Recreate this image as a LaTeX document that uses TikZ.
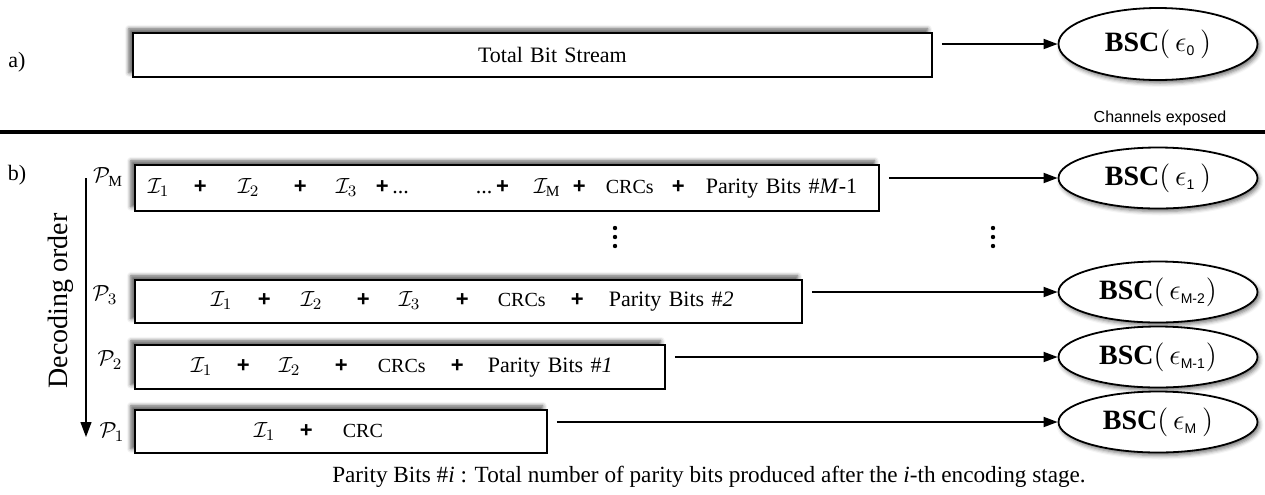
\documentclass[tikz,border=0pt]{standalone}
\usepackage{amsmath}
\usepackage{fontspec}
\setmainfont{Liberation Serif}
\setsansfont{Liberation Sans}
\usetikzlibrary{shapes.geometric,arrows.meta,shadows.blur}
\newcommand{\pls}{\textsf{\textbf{+}}}
\newcommand{\seg}[2]{\makebox[#1pt][l]{#2}}
\newcommand{\sm}{\fontsize{10}{12}\selectfont}
\begin{document}
\begin{tikzpicture}[x=0.5pt,y=-0.5pt,font=\fontsize{11}{13}\selectfont,
pkt/.style={draw,line width=0.9pt,fill=white,rectangle,anchor=north west,inner xsep=0pt,inner ysep=0pt,align=left,
  blur shadow={shadow xshift=-2pt,shadow yshift=2pt,shadow blur radius=2pt,shadow opacity=65}},
bsc/.style={draw,line width=0.9pt,fill=white,ellipse,minimum width=99.5pt,minimum height=30.5pt,inner sep=0pt,
  font=\fontsize{14}{16}\selectfont,blur shadow={shadow xshift=1pt,shadow yshift=-1.5pt,shadow blur radius=2pt,shadow opacity=55}},
conn/.style={-{Triangle[length=7pt,width=5pt]},line width=0.9pt,shorten <=4.5pt}]
\useasboundingbox (0,0) rectangle (1265,494);
\node (la) at (17,62) {a)};
\node (lb) at (17,175) {b)};
\node[pkt,text width=399.5pt,minimum height=22pt,align=center] (total) at (132,32) {\hspace*{20pt}Total Bit Stream};
\node[bsc,minimum height=36pt] (bsc0) at (1158,44) {\textbf{BSC}$(\,\epsilon_{\text{\sffamily\scriptsize 0}}\,)$};
\draw[conn] (total.east |- bsc0.west) -- (bsc0.west);
\coordinate (sl) at (0,132);
\coordinate (sr) at (1265,132);
\draw[line width=2pt] (sl) -- (sr);
\node[font=\sffamily\fontsize{8}{10}\selectfont] (chx) at (1160,118) {Channels exposed};
\node[pkt,text width=372pt,minimum height=23pt] (pktM) at (134,164) {\hspace*{6.5pt}\seg{23}{$\mathcal{I}_1$}\seg{22}{\pls}\seg{28}{$\mathcal{I}_2$}\seg{21}{\pls}\seg{20}{$\mathcal{I}_3$}\seg{50}{\pls\,...}\seg{29}{...\,\pls}\seg{19.5}{$\mathcal{I}_{\mathrm{M}}$}\seg{16.5}{\pls}\seg{33}{\sm CRCs}\seg{17}{\pls}Parity Bits \#\textit{M}-1};
\node[pkt,text width=333.5pt,minimum height=21.5pt] (pkt3) at (134,279) {\hspace*{38pt}\seg{23.5}{$\mathcal{I}_1$}\seg{21.5}{\pls}\seg{28}{$\mathcal{I}_2$}\seg{21}{\pls}\seg{28.5}{$\mathcal{I}_3$}\seg{21}{\pls}\seg{36.5}{\sm CRCs}\seg{19}{\pls}Parity Bits \#\textit{2}};
\node[pkt,text width=265pt,minimum height=22pt] (pkt2) at (134,344) {\hspace*{28pt}\seg{23}{$\mathcal{I}_1$}\seg{21}{\pls}\seg{28}{$\mathcal{I}_2$}\seg{21.5}{\pls}\seg{36.5}{\sm CRCs}\seg{18.5}{\pls}Parity Bits \#\textit{1}};
\node[pkt,text width=206pt,minimum height=21.5pt] (pkt1) at (134,409) {\hspace*{59.5pt}\seg{23}{$\mathcal{I}_1$}\seg{21.5}{\pls}\sm CRC};
\node (pM) at (108,177) {$\mathcal{P}_{\mathrm{M}}$};
\node (p3) at (105,295) {$\mathcal{P}_3$};
\node (p2) at (110,360) {$\mathcal{P}_2$};
\node (p1) at (112,432) {$\mathcal{P}_1$};
\node[bsc] (bsc1) at (1158,178) {\textbf{BSC}$(\,\epsilon_{\text{\sffamily\scriptsize 1}}\,)$};
\node[bsc] (bscM2) at (1158,292) {\textbf{BSC}$(\,\epsilon_{\text{\sffamily\scriptsize M-2}})$};
\node[bsc] (bscM1) at (1158,357) {\textbf{BSC}$(\,\epsilon_{\text{\sffamily\scriptsize M-1}})$};
\node[bsc] (bscM) at (1158,422) {\textbf{BSC}$(\,\epsilon_{\text{\sffamily\scriptsize M}}\,)$};
\draw[conn] (pktM.east |- bsc1.west) -- (bsc1.west);
\draw[conn] (pkt3.east |- bscM2.west) -- (bscM2.west);
\draw[conn] (pkt2.east |- bscM1.west) -- (bscM1.west);
\draw[conn] (pkt1.east |- bscM.west) -- (bscM.west);
\foreach \x in {615,993}
  \foreach \y in {228,237,246}
    \fill (\x,\y) circle (1.1pt);
\coordinate (dtop) at (86,178);
\coordinate (dbot) at (86,437);
\draw[-{Triangle[length=7.5pt,width=5.5pt]},line width=0.6pt] (dtop) -- (dbot);
\node[rotate=90,font=\fontsize{14}{16}\selectfont] (dec) at (61,301) {Decoding order};
\node[font=\fontsize{11.6}{14}\selectfont] (cap) at (709,477) {Parity Bits \#\textit{i} : Total number of parity bits produced after the \textit{i}-th encoding stage.};
\end{tikzpicture}
\end{document}
